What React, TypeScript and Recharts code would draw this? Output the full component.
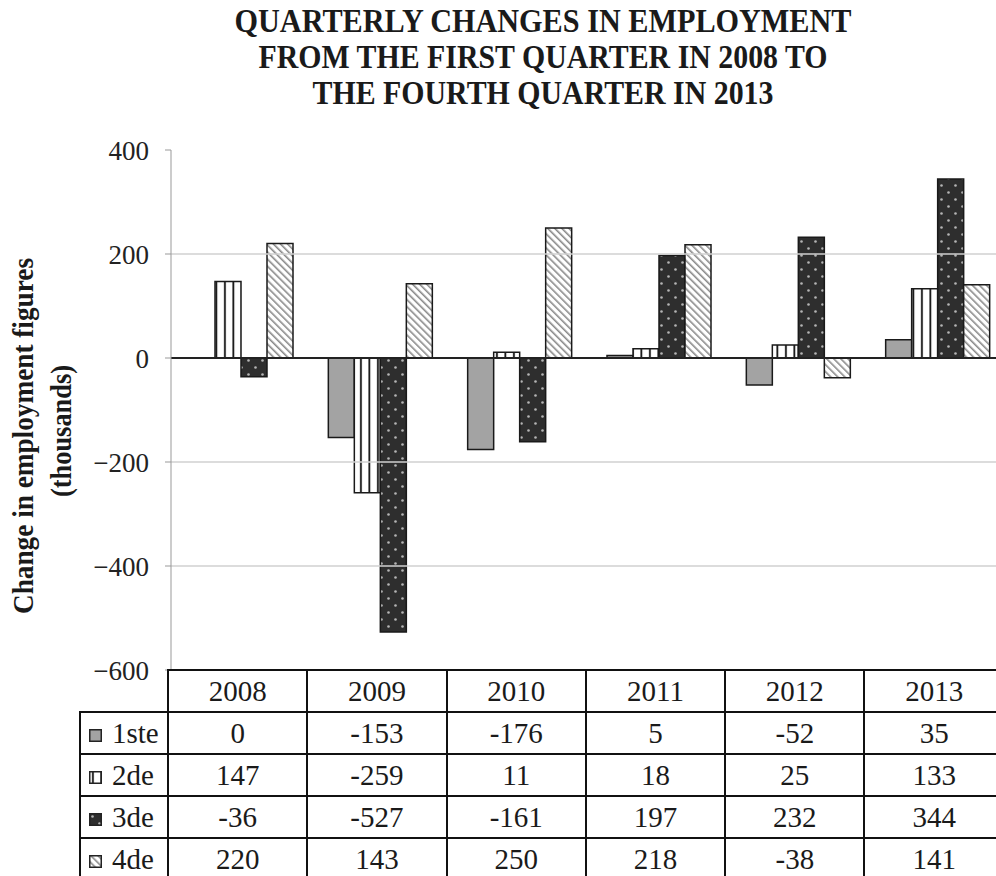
import { BarChart, Bar, XAxis, YAxis, ReferenceLine } from "recharts";

const years = ["2008", "2009", "2010", "2011", "2012", "2013"];
const q1 = [0, -153, -176, 5, -52, 35];
const q2 = [147, -259, 11, 18, 25, 133];
const q3 = [-36, -527, -161, 197, 232, 344];
const q4 = [220, 143, 250, 218, -38, 141];
const seriesNames = ["1ste", "2de", "3de", "4de"];
const yTicks = [-600, -400, -200, 0, 200, 400];
const gridValues = [-400, -200, 200];
const titleLines = [
  "QUARTERLY CHANGES IN EMPLOYMENT",
  "FROM THE FIRST QUARTER IN 2008 TO",
  "THE FOURTH QUARTER IN 2013",
];

const serif = "Liberation Serif";
const seriesValues = [q1, q2, q3, q4];
const fills = ["url(#pQ1)", "url(#pQ2)", "url(#pQ3)", "url(#pQ4)"];
const keys = ["q1", "q2", "q3", "q4"];

const data = years.map((year, i) => ({
  year,
  q1: q1[i],
  q2: q2[i],
  q3: q3[i],
  q4: q4[i],
}));

const fmt = (v: number) => (v < 0 ? `\u2212${-v}` : `${v}`);

const cell: React.CSSProperties = {
  border: "2.5px solid #111",
  padding: 0,
  textAlign: "center",
  verticalAlign: "middle",
  lineHeight: 1,
};

function Swatch({ fill }: { fill: string }) {
  return (
    <svg width={13} height={13} style={{ display: "inline-block", verticalAlign: "middle", marginRight: 10 }}>
      <rect x={0.75} y={0.75} width={11.5} height={11.5} fill={fill} stroke="#222" strokeWidth={1.5} />
    </svg>
  );
}

export default function App() {
  return (
    <div style={{ position: "absolute", left: 0, top: 0, width: 996, height: 876, overflow: "hidden", background: "#fff" }}>
      <BarChart
        width={1007}
        height={876}
        data={data}
        margin={{ top: 150, right: 0, bottom: 206, left: 0 }}
        barSize={26}
        barGap={0}
        barCategoryGap="12.5%"
      >
        <XAxis dataKey="year" hide />
        <YAxis
          width={171}
          domain={[-600, 400]}
          ticks={yTicks}
          tickFormatter={fmt}
          tickSize={6}
          tickMargin={16}
          stroke="#999"
          tick={{ fontFamily: serif, fontSize: 27, fill: "#222" }}
        />
        {gridValues.map((v) => (
          <ReferenceLine key={v} y={v} stroke="#d0d0d0" strokeWidth={1.5} />
        ))}
        {keys.map((k, i) => (
          <Bar
            key={k}
            dataKey={k}
            name={seriesNames[i]}
            fill={fills[i]}
            stroke="#1a1a1a"
            strokeWidth={1.5}
            isAnimationActive={false}
          />
        ))}
        <ReferenceLine y={0} stroke="#222" strokeWidth={2} />
      </BarChart>

      <svg width={996} height={876} style={{ position: "absolute", left: 0, top: 0, pointerEvents: "none" }}>
        <defs>
          <pattern id="pQ1" patternUnits="userSpaceOnUse" width={4} height={4}>
            <rect width={4} height={4} fill="#a3a3a3" />
          </pattern>
          <pattern id="pQ2" patternUnits="userSpaceOnUse" width={8.5} height={8}>
            <rect width={8.5} height={8} fill="#fff" />
            <rect x={3} width={1.8} height={8} fill="#111" />
          </pattern>
          <pattern id="pQ3" patternUnits="userSpaceOnUse" width={14} height={14}>
            <rect width={14} height={14} fill="#2e2e2e" />
            <circle cx={3.5} cy={3.5} r={1.3} fill="#b5b5b5" />
            <circle cx={10.5} cy={10.5} r={1.3} fill="#b5b5b5" />
          </pattern>
          <pattern id="pQ4" patternUnits="userSpaceOnUse" width={5} height={5} patternTransform="rotate(-45)">
            <rect width={5} height={5} fill="#fff" />
            <rect x={0} width={1.6} height={5} fill="#8a8a8a" />
          </pattern>
        </defs>
        {titleLines.map((t, i) => (
          <text
            key={t}
            x={543}
            y={32 + i * 36}
            textAnchor="middle"
            fontFamily={serif}
            fontWeight="bold"
            fontSize={33}
            fill="#1a1a1a"
            textLength={[617, 569, 461][i]}
            lengthAdjust="spacingAndGlyphs"
          >
            {t}
          </text>
        ))}
        <text
          transform="rotate(-90, 33, 436)"
          x={33}
          y={436}
          textAnchor="middle"
          fontFamily={serif}
          fontWeight="bold"
          fontSize={29}
          fill="#1a1a1a"
          textLength={356}
          lengthAdjust="spacingAndGlyphs"
        >
          Change in employment figures
        </text>
        <text
          transform="rotate(-90, 71, 431)"
          x={71}
          y={431}
          textAnchor="middle"
          fontFamily={serif}
          fontWeight="bold"
          fontSize={29}
          fill="#1a1a1a"
          textLength={132}
          lengthAdjust="spacingAndGlyphs"
        >
          (thousands)
        </text>
      </svg>

      <table
        style={{
          position: "absolute",
          left: 79,
          top: 669,
          borderCollapse: "collapse",
          tableLayout: "fixed",
          width: 88 + 6 * 139.3,
          fontFamily: serif,
          fontSize: 29,
          color: "#1a1a1a",
        }}
      >
        <colgroup>
          <col style={{ width: 88 }} />
          {years.map((y) => (
            <col key={y} style={{ width: 139.3 }} />
          ))}
        </colgroup>
        <tbody>
          <tr style={{ height: 42 }}>
            <td style={{ border: "none", padding: 0 }} />
            {years.map((y) => (
              <td key={y} style={cell}>
                {y}
              </td>
            ))}
          </tr>
          {seriesNames.map((name, si) => (
            <tr key={name} style={{ height: 42 }}>
              <td style={{ ...cell, textAlign: "left", paddingLeft: 8, whiteSpace: "nowrap" }}>
                <Swatch fill={fills[si]} />
                {name}
              </td>
              {seriesValues[si].map((v, i) => (
                <td key={years[i]} style={cell}>
                  {v}
                </td>
              ))}
            </tr>
          ))}
        </tbody>
      </table>
    </div>
  );
}
